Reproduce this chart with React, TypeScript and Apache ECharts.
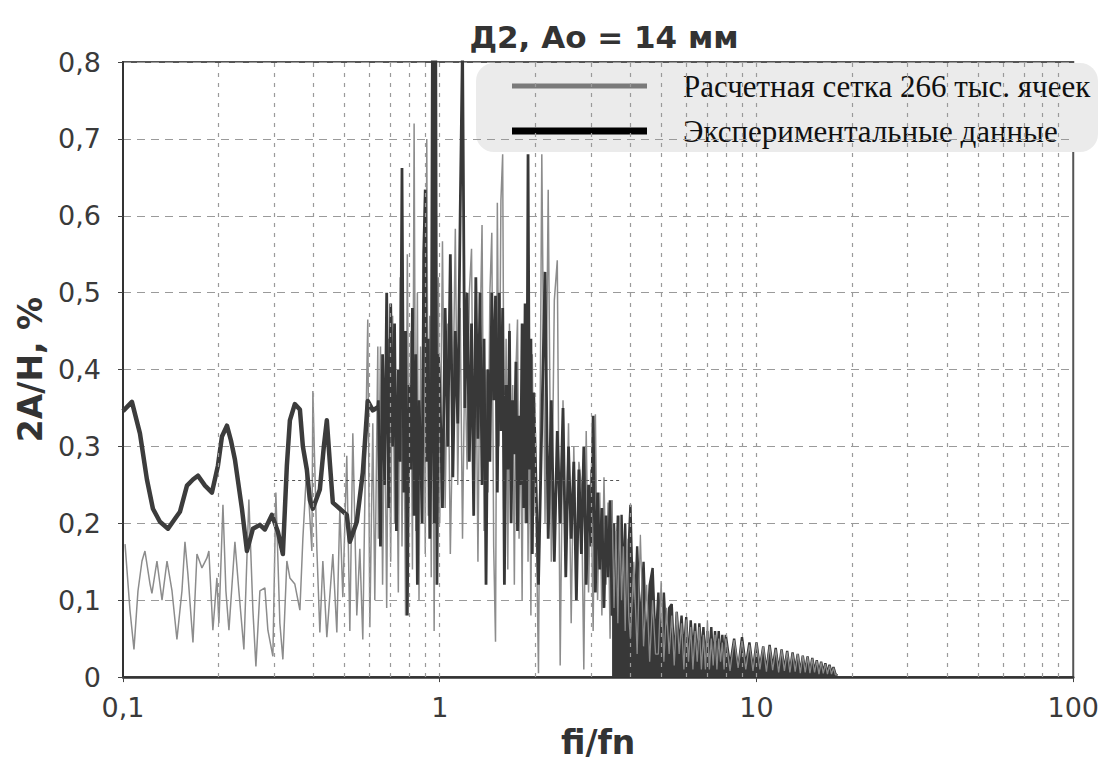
import React, { useEffect, useRef } from "react";
import * as echarts from "echarts";

const TITLE = "Д2, Ао = 14 мм";
const X_NAME = "fi/fn";
const Y_NAME = "2A/H, %";
const CALC_NAME = "Расчетная сетка 266 тыс. ячеек";
const EXP_NAME = "Экспериментальные данные";

const X_MIN = 0.1;
const X_MAX = 100;
const Y_MIN = 0;
const Y_MAX = 0.8;
const Y_STEP = 0.1;

// dashed vertical grid positions (log axis)
const gridFreqs = [0.2, 0.3, 0.4, 0.5, 0.6, 0.7, 0.8, 0.9, 1, 2, 3, 4, 5, 6, 7, 8, 9, 10, 20, 30, 40, 50, 60, 70, 80, 90];

// thin dotted reference line seen in the picture
const refLineY = 0.256;
const refLineFrom = 0.3;
const refLineTo = 3.7;

// calculation (gray), low-frequency part: [fi/fn, 2A/H]
const calcLow: number[][] = [
  [0.1015, 0.173], [0.1052, 0.087], [0.1083, 0.036], [0.1115, 0.112], [0.1148, 0.151], [0.1173, 0.164],
  [0.1217, 0.121], [0.1234, 0.109], [0.128, 0.151], [0.1328, 0.1], [0.1377, 0.151], [0.1428, 0.112],
  [0.148, 0.049], [0.1535, 0.112], [0.1569, 0.176], [0.1603, 0.134], [0.1663, 0.045], [0.1712, 0.16],
  [0.1775, 0.142], [0.1841, 0.155], [0.1867, 0.164], [0.1922, 0.061], [0.1979, 0.129], [0.2008, 0.07],
  [0.2068, 0.224], [0.2113, 0.112], [0.216, 0.061], [0.2256, 0.176], [0.2322, 0.112], [0.2408, 0.036],
  [0.2497, 0.231], [0.2571, 0.087], [0.2628, 0.014], [0.2705, 0.112], [0.2805, 0.116], [0.2867, 0.061],
  [0.2973, 0.027], [0.3038, 0.24], [0.3128, 0.07], [0.3197, 0.023], [0.3291, 0.151], [0.3364, 0.129],
  [0.3487, 0.121], [0.3618, 0.087], [0.3697, 0.18], [0.3805, 0.275], [0.3947, 0.164], [0.3976, 0.372],
  [0.4093, 0.167], [0.4183, 0.058], [0.4275, 0.151], [0.4401, 0.052], [0.4597, 0.16], [0.4733, 0.058],
  [0.4837, 0.219], [0.4943, 0.104], [0.5088, 0.288], [0.5202, 0.06], [0.5316, 0.317], [0.5472, 0.08],
  [0.5594, 0.167], [0.5716, 0.049], [0.5843, 0.317], [0.5926, 0.465], [0.6016, 0.065], [0.6147, 0.33],
  [0.6237, 0.1], [0.6375, 0.43],
];

// experiment (dark), low-frequency smooth part
const expLow: number[][] = [
  [0.1, 0.346], [0.1067, 0.358], [0.1131, 0.317], [0.119, 0.257], [0.1243, 0.219], [0.1308, 0.202],
  [0.1387, 0.193], [0.1459, 0.206], [0.1513, 0.215], [0.1592, 0.249], [0.1663, 0.257], [0.1724, 0.262],
  [0.1815, 0.249], [0.1909, 0.24], [0.1994, 0.275], [0.2053, 0.313], [0.2129, 0.327], [0.2191, 0.308],
  [0.2256, 0.283], [0.2374, 0.219], [0.2462, 0.164], [0.2571, 0.193], [0.2705, 0.198], [0.2805, 0.192],
  [0.2951, 0.211], [0.3083, 0.189], [0.3197, 0.16], [0.3291, 0.275], [0.3364, 0.334], [0.3487, 0.355],
  [0.3618, 0.348], [0.3697, 0.3], [0.3805, 0.27], [0.3891, 0.23], [0.3976, 0.219], [0.4183, 0.244],
  [0.4306, 0.3], [0.4401, 0.334], [0.4498, 0.279], [0.4597, 0.227], [0.4837, 0.219], [0.5088, 0.211],
  [0.5202, 0.176], [0.5472, 0.202], [0.5716, 0.266], [0.5926, 0.359], [0.6147, 0.347], [0.6375, 0.351],
];

// dense (spiky) part, 0.64 … 3.5: shared frequency positions
const midFreq = [
  0.64, 0.65, 0.66, 0.67, 0.68, 0.69, 0.7, 0.71, 0.72, 0.73, 0.74, 0.75, 0.76, 0.77, 0.78, 0.79, 0.8, 0.81,
  0.82, 0.83, 0.84, 0.85, 0.86, 0.87, 0.88, 0.89, 0.9, 0.91, 0.92, 0.93, 0.94, 0.95, 0.96, 0.97, 0.98, 0.99,
  1.0, 1.02, 1.04, 1.06, 1.08, 1.1, 1.12, 1.14, 1.16, 1.18, 1.2, 1.22, 1.24, 1.26, 1.28, 1.3, 1.32, 1.34,
  1.36, 1.38, 1.4, 1.42, 1.44, 1.46, 1.48, 1.5, 1.52, 1.54, 1.56, 1.58, 1.6, 1.62, 1.64, 1.66, 1.68, 1.7,
  1.72, 1.74, 1.76, 1.78, 1.8, 1.82, 1.84, 1.86, 1.88, 1.9, 1.92, 1.94, 1.96, 1.98,
  2.0, 2.05, 2.1, 2.15, 2.2, 2.25, 2.3, 2.35, 2.4, 2.45, 2.5, 2.55, 2.6, 2.65, 2.7, 2.75, 2.8, 2.85, 2.9,
  2.95, 3.0, 3.05, 3.1, 3.15, 3.2, 3.25, 3.3, 3.35, 3.4, 3.45, 3.5,
];

// dense tail, 3.55 … 18
const tailFreq = [
  3.55, 3.6, 3.65, 3.7, 3.75, 3.8, 3.85, 3.9, 3.95, 4.0, 4.1,
  4.2, 4.3, 4.4, 4.5, 4.6, 4.7, 4.8, 4.9, 5.0, 5.1, 5.2, 5.3, 5.4, 5.5, 5.6, 5.7, 5.8, 5.9, 6.0,
  6.1, 6.2, 6.3, 6.4, 6.5, 6.6, 6.7, 6.8, 6.9, 7.0, 7.1, 7.2, 7.3, 7.4, 7.5, 7.6, 7.7, 7.8, 7.9,
  8.0, 8.25, 8.5, 8.75, 9.0, 9.25, 9.5, 9.75, 10.0, 10.25, 10.5, 10.75, 11.0, 11.25, 11.5, 11.75, 12.0,
  12.25, 12.5, 12.75, 13.0, 13.25, 13.5, 13.75, 14.0, 14.25, 14.5, 14.75, 15.0, 15.25, 15.5, 15.75, 16.0,
  16.25, 16.5, 16.75, 17.0, 17.25, 17.5, 17.75, 18.0,
];

const calcMid = [
  0.18, 0.43, 0.12, 0.38, 0.09, 0.44, 0.15, 0.47, 0.2, 0.36, 0.11, 0.52, 0.17, 0.4, 0.08, 0.55, 0.22, 0.45,
  0.14, 0.72, 0.19, 0.5, 0.1, 0.43, 0.24, 0.58, 0.16, 0.7, 0.21, 0.47, 0.13, 0.55, 0.06, 0.4, 0.18, 0.52,
  0.2, 0.567, 0.22, 0.46, 0.16, 0.35, 0.583, 0.25, 0.48, 0.18, 0.42, 0.27, 0.5, 0.557, 0.21, 0.46, 0.15, 0.44,
  0.588, 0.19, 0.4, 0.24, 0.5, 0.578, 0.17, 0.046, 0.617, 0.3, 0.62, 0.68, 0.2, 0.44, 0.14, 0.46, 0.26, 0.38,
  0.12, 0.4, 0.465, 0.18, 0.36, 0.1, 0.4, 0.2, 0.45, 0.15, 0.34, 0.08, 0.42, 0.21,
  0.3, 0.005, 0.68, 0.2, 0.634, 0.15, 0.49, 0.542, 0.015, 0.36, 0.14, 0.33, 0.07, 0.3, 0.12, 0.28, 0.249,
  0.01, 0.32, 0.11, 0.27, 0.06, 0.342, 0.1, 0.24, 0.08, 0.26, 0.12, 0.227, 0.05, 0.23,
];

const calcTail = [
  0.09, 0.19, 0.07, 0.21, 0.1, 0.17, 0.06, 0.18, 0.08, 0.05, 0.15,
  0.03, 0.185, 0.04, 0.12, 0.02, 0.1, 0.03, 0.03, 0.125, 0.02, 0.09, 0.03, 0.08, 0.015, 0.085,
  0.03, 0.07, 0.01, 0.075, 0.02, 0.065, 0.01, 0.06, 0.02, 0.065, 0.01, 0.055, 0.01, 0.074, 0.01, 0.05,
  0.015, 0.055, 0.01, 0.05, 0.02, 0.045, 0.01,
  0.05, 0.008, 0.048, 0.012, 0.047, 0.01, 0.042, 0.008, 0.044, 0.01, 0.04, 0.007, 0.04, 0.009, 0.036,
  0.006, 0.035, 0.008, 0.033, 0.006, 0.031, 0.007, 0.03, 0.005, 0.028, 0.006, 0.026, 0.005, 0.024, 0.006,
  0.021, 0.004, 0.019, 0.005, 0.017, 0.004, 0.015, 0.004, 0.012, 0.003, 0.003,
];

const expMid = [
  0.36, 0.17, 0.42, 0.25, 0.5, 0.22, 0.486, 0.3, 0.46, 0.19, 0.4, 0.28, 0.662, 0.24, 0.45, 0.08, 0.38, 0.27,
  0.48, 0.21, 0.42, 0.12, 0.36, 0.3, 0.2, 0.55, 0.634, 0.28, 0.44, 0.18, 0.3, 0.95, 0.2, 0.95, 0.12, 0.42,
  0.38, 0.22, 0.48, 0.3, 0.55, 0.26, 0.45, 0.33, 0.6, 0.83, 0.35, 0.5, 0.28, 0.46, 0.21, 0.52, 0.31, 0.5,
  0.25, 0.44, 0.12, 0.4, 0.28, 0.5, 0.36, 0.496, 0.24, 0.5, 0.32, 0.48, 0.12, 0.38, 0.27, 0.45, 0.2, 0.36,
  0.29, 0.41, 0.19, 0.34, 0.25, 0.46, 0.22, 0.486, 0.2, 0.68, 0.27, 0.44, 0.16, 0.37,
  0.3, 0.12, 0.33, 0.527, 0.18, 0.36, 0.15, 0.32, 0.2, 0.35, 0.13, 0.3, 0.18, 0.28, 0.1, 0.27, 0.16, 0.3,
  0.12, 0.25, 0.17, 0.34, 0.11, 0.24, 0.14, 0.22, 0.09, 0.21, 0.13, 0.23, 0.08,
];

const expTail = [
  0.2, 0.12, 0.21, 0.07, 0.211, 0.11, 0.2, 0.06, 0.17, 0.224, 0.04,
  0.17, 0.06, 0.15, 0.03, 0.12, 0.142, 0.04, 0.11, 0.03, 0.11, 0.04, 0.09, 0.095, 0.02, 0.085,
  0.04, 0.08, 0.03, 0.078, 0.02, 0.074, 0.03, 0.07, 0.015, 0.07, 0.03, 0.065, 0.02, 0.06, 0.025, 0.065,
  0.015, 0.06, 0.02, 0.06, 0.015, 0.055, 0.02,
  0.055, 0.015, 0.05, 0.01, 0.052, 0.015, 0.045, 0.01, 0.045, 0.012, 0.04, 0.008, 0.042, 0.012, 0.038,
  0.008, 0.036, 0.01, 0.034, 0.007, 0.032, 0.01, 0.03, 0.006, 0.028, 0.008, 0.027, 0.005, 0.025, 0.007,
  0.022, 0.005, 0.02, 0.006, 0.018, 0.004, 0.016, 0.005, 0.013, 0.004, 0.002,
];

const SANS = "'DejaVu Sans', Verdana, sans-serif";
const SERIF = "'Liberation Serif', 'Times New Roman', serif";
const DARK = "#383838";
const GRAY = "#8c8c8c";

export default function App() {
  const ref = useRef<HTMLDivElement>(null);

  useEffect(() => {
    if (!ref.current) return;
    const chart = echarts.init(ref.current, null, { renderer: "svg" });
    const pair = (fs: number[], vs: number[]) => fs.map((f, i) => [f, vs[i]]);
    const calcMidData = [...calcLow, ...pair(midFreq, calcMid)];
    const calcTailData = [calcMidData[calcMidData.length - 1], ...pair(tailFreq, calcTail)];
    const expMidData = [expLow[expLow.length - 1], ...pair(midFreq, expMid)];
    const expTailData = [expMidData[expMidData.length - 1], ...pair(tailFreq, expTail)];

    const fmtX = (v: number) => String(Number(v.toPrecision(3))).replace(".", ",");
    const fmtY = (v: number) => (Math.abs(v) < 1e-9 ? "0" : v.toFixed(1).replace(".", ","));

    chart.setOption({
      animation: false,
      backgroundColor: "#ffffff",
      title: {
        text: TITLE,
        left: 599,
        top: 16,
        textAlign: "center",
        textStyle: { fontFamily: SANS, fontSize: 31, fontWeight: "bold", color: "#333" },
      },
      grid: {
        left: 123,
        right: 28,
        top: 62,
        bottom: 76,
        show: true,
        borderColor: "#555",
        borderWidth: 2,
        backgroundColor: "transparent",
      },
      xAxis: {
        type: "log",
        logBase: 10,
        min: X_MIN,
        max: X_MAX,
        name: X_NAME,
        nameLocation: "middle",
        nameGap: 40,
        nameTextStyle: { fontFamily: SANS, fontSize: 33, fontWeight: "bold", color: "#333" },
        axisLine: { onZero: false, lineStyle: { color: "#333", width: 2.5 } },
        axisTick: { show: true, length: 5, lineStyle: { color: "#444" } },
        axisLabel: { margin: 17, fontFamily: SANS, fontSize: 27, color: "#3a3a3a", formatter: fmtX },
        splitLine: { show: false },
        minorTick: { show: false },
      },
      yAxis: {
        type: "value",
        min: Y_MIN,
        max: Y_MAX,
        interval: Y_STEP,
        name: Y_NAME,
        nameLocation: "middle",
        nameGap: 74,
        nameRotate: 90,
        nameTextStyle: { fontFamily: SANS, fontSize: 33, fontWeight: "bold", color: "#333" },
        axisLine: { show: true, lineStyle: { color: "#333", width: 2 } },
        axisTick: { show: true, length: 5, lineStyle: { color: "#444" } },
        axisLabel: { margin: 22, fontFamily: SANS, fontSize: 27, color: "#3a3a3a", formatter: fmtY },
        splitLine: { show: true, lineStyle: { type: [8, 6], color: "#9a9a9a", width: 1.2 } },
      },
      graphic: [
        {
          type: "group",
          z: 100,
          children: [
            { type: "rect", shape: { x: 476, y: 63, width: 622, height: 89, r: 18 }, style: { fill: "#ebebeb" } },
            { type: "line", shape: { x1: 512, y1: 86, x2: 647, y2: 86 }, style: { stroke: "#7a7a7a", lineWidth: 5 } },
            { type: "line", shape: { x1: 512, y1: 131, x2: 647, y2: 131 }, style: { stroke: "#000", lineWidth: 7 } },
            {
              type: "text",
              x: 683,
              y: 86,
              style: { text: CALC_NAME, fill: "#111", font: `31px ${SERIF}`, verticalAlign: "middle" },
            },
            {
              type: "text",
              x: 683,
              y: 131,
              style: { text: EXP_NAME, fill: "#111", font: `31px ${SERIF}`, verticalAlign: "middle" },
            },
          ],
        },
      ],
      series: [
        {
          name: "grid",
          type: "line",
          data: [],
          silent: true,
          z: 1,
          markLine: {
            silent: true,
            symbol: ["none", "none"],
            label: { show: false },
            animation: false,
            lineStyle: { type: [4, 6], color: "#9a9a9a", width: 1.2 },
            data: [
              ...gridFreqs.map((f) => ({ xAxis: f })),
              [
                { coord: [refLineFrom, refLineY], lineStyle: { type: [3, 3], color: "#555", width: 1 } },
                { coord: [refLineTo, refLineY] },
              ],
            ],
          },
        },
        {
          name: CALC_NAME,
          type: "line",
          data: calcMidData,
          symbol: "none",
          z: 3,
          lineStyle: { color: GRAY, width: 1.5 },
        },
        {
          name: EXP_NAME,
          type: "line",
          data: expLow,
          symbol: "none",
          z: 4,
          lineStyle: { color: "#3c3c3c", width: 4.5, join: "round" },
        },
        {
          name: EXP_NAME,
          type: "line",
          data: expMidData,
          symbol: "none",
          z: 4,
          lineStyle: { color: DARK, width: 2.8 },
        },
        {
          name: EXP_NAME,
          type: "line",
          data: expTailData,
          symbol: "none",
          z: 4,
          lineStyle: { color: DARK, width: 2.4 },
          areaStyle: { color: DARK, opacity: 1 },
        },
        {
          name: CALC_NAME,
          type: "line",
          data: calcTailData,
          symbol: "none",
          z: 5,
          lineStyle: { color: "#8a8a8a", width: 1.3 },
        },
      ],
    });
    return () => chart.dispose();
  }, []);

  return (
    <div
      ref={ref}
      style={{ position: "absolute", left: 0, top: 0, width: 1102, height: 764, background: "#fff" }}
    />
  );
}
